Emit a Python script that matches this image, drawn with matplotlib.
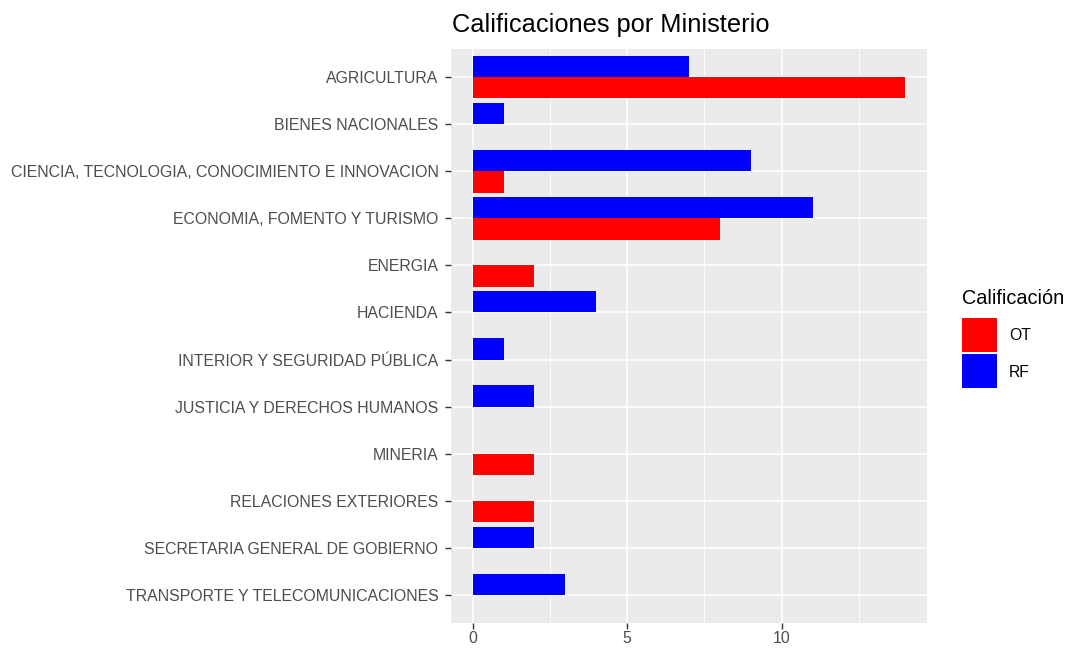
import numpy as np
import matplotlib.pyplot as plt
from matplotlib.patches import Rectangle

plt.rcParams['font.family'] = ['Liberation Sans', 'DejaVu Sans']

ministerios = ['AGRICULTURA', 'BIENES NACIONALES',
               'CIENCIA, TECNOLOGIA, CONOCIMIENTO E INNOVACION',
               'ECONOMIA, FOMENTO Y TURISMO', 'ENERGIA', 'HACIENDA',
               'INTERIOR Y SEGURIDAD PÚBLICA', 'JUSTICIA Y DERECHOS HUMANOS',
               'MINERIA', 'RELACIONES EXTERIORES',
               'SECRETARIA GENERAL DE GOBIERNO',
               'TRANSPORTE Y TELECOMUNICACIONES']
ot = [14, 0, 1, 8, 2, 0, 0, 0, 2, 2, 0, 0]
rf = [7, 1, 9, 11, 0, 4, 1, 2, 0, 0, 2, 3]
x_ticks = [0, 5, 10]
series = ['OT', 'RF']

col_ot = '#FF0000'
col_rf = '#0000FF'
grey = '#EBEBEB'
W, H = 1069, 652

fig = plt.figure(figsize=(W/100, H/100), dpi=100)
ax = fig.add_axes([451/W, 1-623/H, (927-451)/W, (623-49)/H])
ax.set_facecolor(grey)

y = np.arange(len(ministerios))
h = 0.45
# RF arriba, OT abajo (como position_dodge de ggplot con coord_flip)
ax.barh(y - h/2, rf, height=h, color=col_rf, zorder=3)
ax.barh(y + h/2, ot, height=h, color=col_ot, zorder=3)

xmax = max(max(ot), max(rf))
ax.set_xlim(-0.05*xmax, xmax*1.05)
ax.set_ylim(len(ministerios) - 1 + 0.6, -0.6)

ax.set_xticks(x_ticks)
ax.set_xticks([2.5, 7.5, 12.5], minor=True)
ax.set_yticks(y)
ax.set_yticklabels(ministerios)
ax.grid(True, which='major', color='white', linewidth=1.2, zorder=0)
ax.grid(True, which='minor', axis='x', color='white', linewidth=0.6, zorder=0)
ax.set_axisbelow(True)
for s in ax.spines.values():
    s.set_visible(False)
ax.tick_params(which='major', length=4, width=1, color='#333333',
               labelcolor='#4D4D4D', labelsize=11.4)
ax.tick_params(axis='y', pad=5)
ax.tick_params(axis='x', pad=2)
ax.tick_params(which='minor', length=0)

fig.text(452/W, 1-25/H, 'Calificaciones por Ministerio', fontsize=18.3,
         color='black', ha='left', va='center')

# leyenda
fig.text(962/W, 1-298/H, 'Calificación', fontsize=14.3, color='black',
         ha='left', va='center')
for i, (lab, c) in enumerate(zip(series, [col_ot, col_rf])):
    top = 318 + i*36.5
    fig.patches.append(Rectangle((962/W, 1-(top+34)/H), 35/W, 34/H,
                                 facecolor=c, edgecolor='none',
                                 transform=fig.transFigure, figure=fig))
    fig.text(1009/W, 1-(top+18)/H, lab, fontsize=11.3, color='black',
             ha='left', va='center')

fig.savefig('out.png', dpi=100)
